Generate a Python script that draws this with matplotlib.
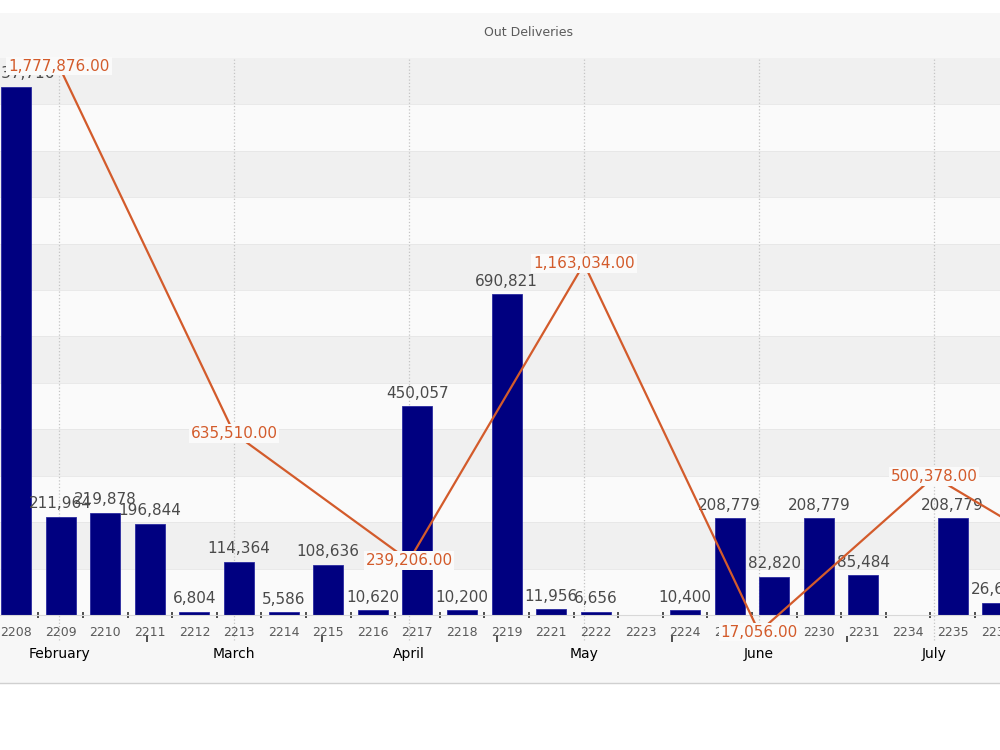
import numpy as np
import matplotlib.pyplot as plt
from matplotlib.patches import Rectangle
from matplotlib.lines import Line2D
from matplotlib.transforms import blended_transform_factory

# =========================
# Data
# =========================
bar_labels = ["2208", "2209", "2210", "2211", "2212", "2213", "2214", "2215",
              "2216", "2217", "2218", "2219", "2221", "2222", "2223", "2224",
              "2225", "2226", "2230", "2231", "2234", "2235", "2236"]
bar_values = [1137716, 211964, 219878, 196844, 6804, 114364, 5586, 108636,
              10620, 450057, 10200, 690821, 11956, 6656, np.nan, 10400,
              208779, 82820, 208779, 85484, np.nan, 208779, 26640]

months = ["February", "March", "April", "May", "June", "July", "August"]
month_values = [1777876, 635510, 239206, 1163034, 17056, 500378, 176000]

# =========================
# Style
# =========================
bar_color = "#000080"
line_color = "#d35b2b"
text_color = "#4a4a4a"
axis_text_color = "#5a5a5a"
band_dark = "#f0f0f0"
band_light = "#fafafa"
chart_bg = "#f7f7f7"

W, H = 1000, 750
fig = plt.figure(figsize=(10, 7.5), dpi=100)
fig.patch.set_facecolor("white")

# chart background + bottom border
fig.patches.append(Rectangle((0, 1 - 683 / H), 1, (683 - 13) / H, transform=fig.transFigure,
                             facecolor=chart_bg, edgecolor="none", zorder=-10))
fig.lines.append(Line2D([0, 1], [1 - 683 / H] * 2, transform=fig.transFigure,
                        color="#d0d0d0", lw=1.0, zorder=-9))

plot_rect = [0, 1 - 615 / H, 1, (615 - 58) / H]

# =========================
# Bars (primary axis)
# =========================
ax = fig.add_axes(plot_rect)
ax.set_facecolor(band_light)
x = np.arange(len(bar_labels))

for j in range(12):
    ax.axhspan(j * 100000, (j + 1) * 100000,
               color=band_dark if j % 2 == 1 else band_light, lw=0, zorder=0)
    ax.axhline(j * 100000, color="#e6e6e6", lw=0.6, zorder=0.5)

ax.bar(x, np.nan_to_num(bar_values), width=0.67, color=bar_color,
       edgecolor="#2a2aa0", linewidth=0.6, zorder=2)

for xi, v in zip(x, bar_values):
    if np.isnan(v):
        continue
    ax.annotate(f"{int(v):,}", (xi, v), xytext=(0, 13), textcoords="offset pixels",
                ha="center", va="center", fontsize=11, color=text_color, zorder=3)

ax.set_xticks(x)
ax.set_xticklabels(bar_labels, fontsize=9, color=axis_text_color)
ax.set_xticks(x[:-1] + 0.5, minor=True)
ax.tick_params(axis="x", which="major", length=0, pad=8)
ax.tick_params(axis="x", which="minor", direction="inout", length=5, width=1.2, color="#333333")
ax.set_yticks([])
for s in ["top", "left", "right"]:
    ax.spines[s].set_visible(False)
ax.spines["bottom"].set_color("#d8d8d8")

# =========================
# Monthly line (secondary axis)
# =========================
ax_line = fig.add_axes(plot_rect, label="line")
ax_line.patch.set_visible(False)
m = np.arange(len(months))

ax_line.plot(m, month_values, color=line_color, lw=1.6, zorder=4, clip_on=False)
for mi, v in zip(m, month_values):
    ax_line.text(mi, v, f"{v:,.2f}", ha="center", va="center", fontsize=11,
                 color=line_color, zorder=5,
                 bbox=dict(boxstyle="square,pad=0.12", fc=band_light, ec="none"))

ax_line.set_xticks(m)
ax_line.set_xticklabels(months, fontsize=9, color=axis_text_color)
ax_line.set_xticks(m + 0.5, minor=True)
ax_line.spines["bottom"].set_position(("outward", 17))
for s in ["top", "left", "right", "bottom"]:
    ax_line.spines[s].set_visible(False)
ax_line.tick_params(axis="x", which="major", length=0, pad=6)
ax_line.tick_params(axis="x", which="minor", direction="inout", length=5, width=1.2, color="#333333")
ax_line.set_yticks([])
ax_line.set_xlim(-59 / 175, (W - 59) / 175)
ax_line.set_ylim(70000, 1803000)

# dotted month guides drawn behind the bars
trans = blended_transform_factory(ax_line.transData, ax.transAxes)
for mi in m:
    ax.plot([mi, mi], [-0.045, 1], transform=trans, color="#c4c4c4", ls=":",
            lw=0.9, zorder=1, clip_on=False)
ax.set_xlim(-16 / 44.6, (W - 16) / 44.6)
ax.set_ylim(0, 1200000)

fig.text(529 / W, 1 - 32 / H, "Out Deliveries", ha="center", va="center",
         fontsize=9, color=axis_text_color)

fig.savefig("out.png", dpi=100)
